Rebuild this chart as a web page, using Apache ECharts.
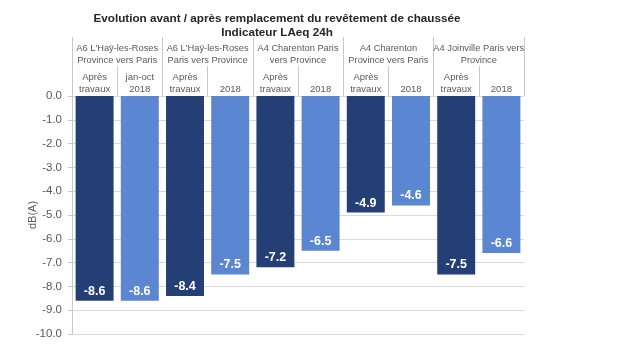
<!DOCTYPE html>
<html lang="fr">
  <head>
    <meta charset="UTF-8" />
    <script src="https://cdn.jsdelivr.net/npm/echarts@6/dist/echarts.min.js"></script>
    <style>
      body { margin: 0; background: #fff; }
      #container { width: 620px; height: 350px; }
    </style>
  </head>
  <body>
    <div id="container"></div>
    <script>
      const groups = [
        "A6 L'Haÿ-les-Roses\nProvince vers Paris",
        "A6 L'Haÿ-les-Roses\nParis vers Province",
        "A4 Charenton Paris\nvers Province",
        "A4 Charenton\nProvince vers Paris",
        "A4 Joinville Paris vers\nProvince"
      ];
      const periods = [
        "Après\ntravaux", "jan-oct\n2018",
        "Après\ntravaux", "2018",
        "Après\ntravaux", "2018",
        "Après\ntravaux", "2018",
        "Après\ntravaux", "2018"
      ];
      const values = [-8.6, -8.6, -8.4, -7.5, -7.2, -6.5, -4.9, -4.6, -7.5, -6.6];
      const yTicks = [0, -1, -2, -3, -4, -5, -6, -7, -8, -9, -10];

      const dark = "#243f76";
      const light = "#5a86d2";
      const font = "Liberation Sans";

      var chart = echarts.init(document.getElementById("container"), null, { renderer: "canvas" });

      var option = {
        animation: false,
        textStyle: { fontFamily: font },
        title: {
          text: "Evolution avant / après remplacement du revêtement de chaussée\nIndicateur LAeq 24h",
          left: 272,
          top: 7,
          textAlign: "center",
          textStyle: { fontSize: 11.7, fontWeight: "bold", color: "#262626", lineHeight: 14, fontFamily: font }
        },
        grid: { left: 72, right: 96, top: 96, bottom: 16 },
        xAxis: [
          {
            type: "category",
            position: "top",
            data: periods,
            axisLine: { show: false },
            axisTick: { show: true, length: 30, lineStyle: { color: "#c8c8c8" } },
            axisLabel: { margin: 1, fontSize: 9.5, color: "#595959", lineHeight: 12, interval: 0 }
          },
          {
            type: "category",
            position: "top",
            data: groups,
            axisLine: { show: false },
            axisTick: { show: true, length: 59, lineStyle: { color: "#c8c8c8" } },
            axisLabel: { margin: 30, fontSize: 9.3, color: "#595959", lineHeight: 12, interval: 0 }
          }
        ],
        yAxis: {
          type: "value",
          min: -10,
          max: 0,
          interval: 1,
          name: "dB(A)",
          nameLocation: "middle",
          nameGap: 34,
          nameMoveOverlap: false,
          nameTextStyle: { fontSize: 11, color: "#595959" },
          axisLine: { show: true, lineStyle: { color: "#c8c8c8" } },
          axisTick: { show: true, length: 4, lineStyle: { color: "#c8c8c8" } },
          axisLabel: {
            fontSize: 11.5,
            color: "#595959",
            margin: 10,
            formatter: function (v) { return yTicks.indexOf(v) >= 0 ? v.toFixed(1) : ""; }
          },
          splitLine: { show: true, lineStyle: { color: "#d9d9d9" } }
        },
        series: [
          {
            type: "bar",
            xAxisIndex: 0,
            barCategoryGap: "16%",
            data: values.map(function (v, i) {
              return { value: v, itemStyle: { color: i % 2 === 0 ? dark : light } };
            }),
            label: {
              show: true,
              position: "insideBottom",
              distance: 3,
              color: "#fff",
              fontWeight: "bold",
              fontSize: 12.5,
              formatter: function (p) { return p.value.toFixed(1); }
            }
          }
        ]
      };

      chart.setOption(option);
    </script>
  </body>
</html>
